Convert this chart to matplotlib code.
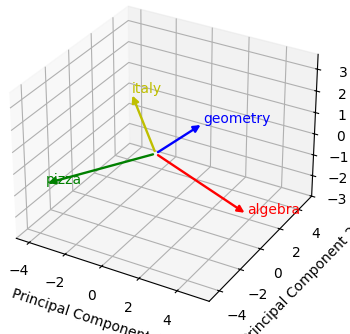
import numpy as np
import matplotlib
matplotlib.use("Agg")
import matplotlib.pyplot as plt
from matplotlib.patches import FancyArrowPatch
from mpl_toolkits.mplot3d import proj3d

words = ["geometry", "italy", "pizza", "algebra"]
colors = ["b", "y", "g", "r"]
pc1 = [1.15, -1.0, -4.73, 5.0]
pc2 = [2.5, -0.5, -2.36, -0.2]
pc3 = [0.63, 2.75, -1.58, -1.45]
x_ticks = [-4, -2, 0, 2, 4]
y_ticks = [-4, -2, 0, 2, 4]
z_ticks = [-3, -2, -1, 0, 1, 2, 3]


class Arrow3D(FancyArrowPatch):
    def __init__(self, xs, ys, zs, *args, **kwargs):
        super().__init__((0, 0), (0, 0), *args, **kwargs)
        self._verts3d = xs, ys, zs

    def do_3d_projection(self, renderer=None):
        xs3d, ys3d, zs3d = self._verts3d
        xs, ys, zs = proj3d.proj_transform(xs3d, ys3d, zs3d, self.axes.M)
        self.set_positions((xs[0], ys[0]), (xs[1], ys[1]))
        return np.min(zs)


fig = plt.figure(figsize=(3.5, 3.34), dpi=100)
ax = fig.add_axes([-0.051, 0.033, 1.028, 1.028], projection="3d")
for w, c, x, y, z in zip(words, colors, pc1, pc2, pc3):
    a = Arrow3D([0, x], [0, y], [0, z], mutation_scale=10, lw=1.7,
                arrowstyle="-|>", color=c)
    ax.add_artist(a)
    ax.text(x, y, z, w, color=c)
ax.set_xlim(-4.73, 5.65)
ax.set_ylim(-4.95, 5.43)
ax.set_zlim(-3.0, 3.67)
ax.set_xticks(x_ticks)
ax.set_yticks(y_ticks)
ax.set_zticks(z_ticks)
ax.set_xlabel("Principal Component 1")
ax.set_ylabel("Principal Component 2")
fig.savefig("out.png", dpi=100)
